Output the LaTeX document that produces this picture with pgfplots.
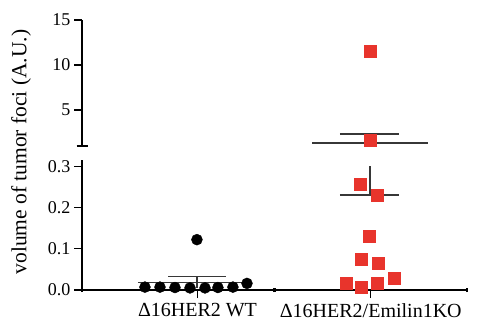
\documentclass[border=0pt]{standalone}
\usepackage{fontspec}
\setmainfont{Liberation Serif}
\usepackage{pgfplots}
\pgfplotsset{compat=1.18}
\definecolor{sqred}{RGB}{232,52,44}
\definecolor{bargray}{RGB}{55,55,55}
\begin{document}
\begin{tikzpicture}[x=1pt,y=1pt]
\useasboundingbox (0,0) rectangle (478,324);
\pgfplotsset{
  common/.style={
    scale only axis, width=385pt, xmin=0, xmax=2,
    axis line style={line width=1.3pt, black},
    tick style={line width=1.2pt, black},
    tick label style={font=\fontsize{18}{18}\selectfont},
    /pgf/number format/assume math mode=true,
    tick align=outside, major tick length=8pt,
    anchor=south west,
  },
  errbar/.style={bargray, line width=1.3pt, forget plot},
}
% upper segment
\begin{axis}[common, at={(82pt,178pt)}, height=126pt,
  ymin=1, ymax=15, ytick={5,10,15}, yticklabels={5,10,15},
  axis y line*=left, axis x line=none,
  extra y ticks={1}, extra y tick labels={},
  extra y tick style={tick align=center, major tick length=11pt},
]
\addplot[errbar] coordinates {(1.195,1.33) (1.797,1.33)};
\addplot[errbar] coordinates {(1.34,2.33) (1.647,2.33)};
\addplot[errbar] coordinates {(1.496,2.33) (1.496,0.5)};
\addplot[only marks, mark=square*, mark size=6pt, color=sqred, draw=none] coordinates {(1.496,11.56) (1.496,1.67)};
\end{axis}
% lower segment
\begin{axis}[common, at={(82pt,34pt)}, height=130pt,
  ymin=0, ymax=0.315, ytick={0,0.1,0.2,0.3}, yticklabels={0.0,0.1,0.2,0.3},
  axis y line*=left, axis x line*=bottom,
  xtick={0.6,1.5}, xticklabels={Δ16HER2 WT, Δ16HER2/Emilin1KO},
  x tick label style={font=\fontsize{20}{20}\selectfont, yshift=-2pt},
  extra x ticks={0,1,2}, extra x tick labels={},
  extra x tick style={tick align=center, major tick length=4pt, tick style={line width=2.5pt}},
  clip=true,
]
\addplot[only marks, mark=*, mark size=5.5pt, black] coordinates {
 (0.327,0.007) (0.405,0.007) (0.483,0.006) (0.561,0.005) (0.639,0.005)
 (0.706,0.006) (0.784,0.007) (0.857,0.016) (0.597,0.122)};
\addplot[errbar] coordinates {(0.29,0.018) (0.87,0.018)};
\addplot[errbar] coordinates {(0.447,0.032) (0.748,0.032)};
\addplot[errbar] coordinates {(0.597,0.032) (0.597,0.004)};
\addplot[errbar] coordinates {(1.34,0.23) (1.647,0.23)};
\addplot[errbar] coordinates {(1.496,0.23) (1.496,0.30)};
\addplot[only marks, mark=square*, mark size=6pt, color=sqred, draw=none] coordinates {
 (1.444,0.257) (1.532,0.230) (1.491,0.131) (1.449,0.075) (1.538,0.065)
 (1.371,0.017) (1.449,0.007) (1.532,0.017) (1.621,0.029)};
\end{axis}
\node[rotate=90, font=\fontsize{21.5}{21.5}\selectfont] at (21,172) {volume of tumor foci (A.U.)};
\end{tikzpicture}
\end{document}
